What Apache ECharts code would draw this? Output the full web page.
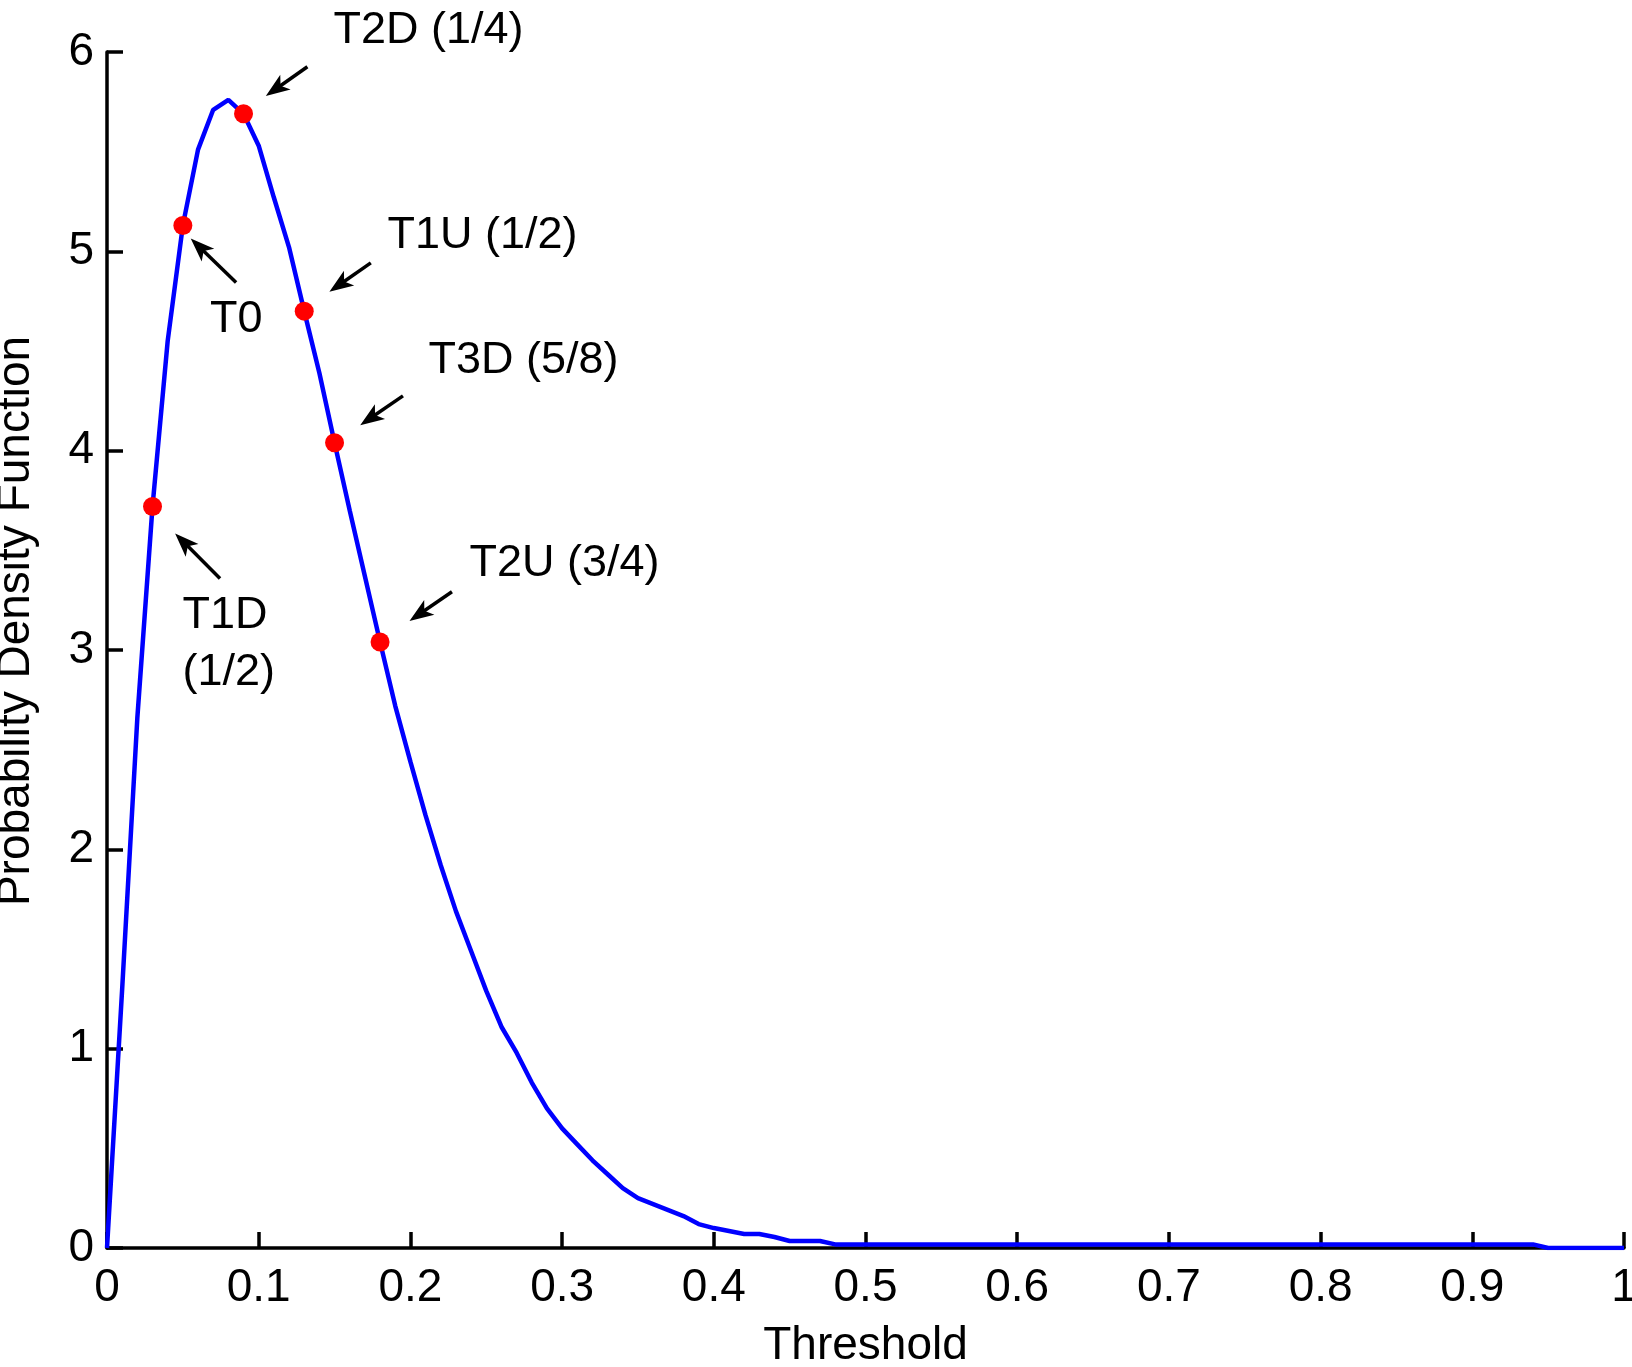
<!DOCTYPE html>
<html>
<head>
<meta charset="utf-8">
<title>Probability Density Function</title>
<script src="https://cdn.jsdelivr.net/npm/echarts@6/dist/echarts.min.js"></script>
<style>
  html, body { margin: 0; padding: 0; background: #fff; }
  #main { width: 1632px; height: 1367px; }
</style>
</head>
<body>
<div id="main"></div>
<script>
// threshold grid, 0 .. 1 in steps of 0.01
var thresholds = [];
for (var i = 0; i <= 100; i++) {
    thresholds.push(i / 100);
}

// pdf values, one per threshold
var pdfValues = [
    0, 1.3, 2.66, 3.72, 4.55, 5.13, 5.51, 5.71, 5.76, 5.69,
    5.53, 5.27, 5.02, 4.70, 4.39, 4.04, 3.70, 3.37, 3.04, 2.72,
    2.44, 2.17, 1.92, 1.69, 1.49, 1.29, 1.11, 0.98, 0.83, 0.70,
    0.60, 0.52, 0.44, 0.37, 0.30, 0.25, 0.22, 0.19, 0.16, 0.12,
    0.10, 0.085, 0.07, 0.07, 0.055, 0.035, 0.035, 0.035, 0.018, 0.018,
    0.018, 0.018, 0.018, 0.018, 0.018, 0.018, 0.018, 0.018, 0.018, 0.018,
    0.018, 0.018, 0.018, 0.018, 0.018, 0.018, 0.018, 0.018, 0.018, 0.018,
    0.018, 0.018, 0.018, 0.018, 0.018, 0.018, 0.018, 0.018, 0.018, 0.018,
    0.018, 0.018, 0.018, 0.018, 0.018, 0.018, 0.018, 0.018, 0.018, 0.018,
    0.018, 0.018, 0.018, 0.018, 0.018, 0, 0, 0, 0, 0,
    0
];

// marked thresholds (red dots)
var markerX = [0.03, 0.05, 0.09, 0.13, 0.15, 0.18];
var markerY = [3.72, 5.13, 5.69, 4.70, 4.04, 3.04];

// annotation texts and where they sit (left edge, vertical middle)
var labelText = ['T1D\n(1/2)', 'T0', 'T2D (1/4)', 'T1U (1/2)', 'T3D (5/8)', 'T2U (3/4)'];
var labelX = [0.0497, 0.0679, 0.1493, 0.1849, 0.2119, 0.2390];
var labelY = [3.032, 4.660, 6.105, 5.081, 4.454, 3.435];

// arrows: tail -> tip
var arrowTail = [[0.0745, 3.359], [0.0851, 4.844], [0.1321, 5.926], [0.1739, 4.942], [0.1951, 4.275], [0.2274, 3.292]];
var arrowTip  = [[0.0449, 3.585], [0.0552, 5.065], [0.1047, 5.779], [0.1466, 4.797], [0.1669, 4.128], [0.1994, 3.146]];

var xTicks = {min: 0, max: 1, interval: 0.1};
var yTicks = {min: 0, max: 6, interval: 1};

var curveData = thresholds.map(function (x, i) { return [x, pdfValues[i]]; });
var markerData = markerX.map(function (x, i) { return [x, markerY[i]]; });
var labelData = labelText.map(function (t, i) { return {name: t, value: [labelX[i], labelY[i]]}; });
var arrowData = arrowTail.map(function (t, i) { return [t[0], t[1], arrowTip[i][0], arrowTip[i][1]]; });

var fontFamily = '"Liberation Sans", Arial, Helvetica, sans-serif';

var axisCommon = {
    axisLine: {lineStyle: {color: '#000', width: 3.5}},
    axisTick: {inside: true, length: 16, lineStyle: {color: '#000', width: 3.5}},
    splitLine: {show: false},
    nameTextStyle: {color: '#000', fontSize: 46, fontFamily: fontFamily}
};

// arrow: shaft plus a notched head, drawn in pixel space from the two data points
function renderArrow(params, api) {
    var p0 = api.coord([api.value(0), api.value(1)]);
    var p1 = api.coord([api.value(2), api.value(3)]);
    var dx = p1[0] - p0[0], dy = p1[1] - p0[1];
    var len = Math.sqrt(dx * dx + dy * dy);
    var ux = dx / len, uy = dy / len;
    var headLen = 24, halfW = 9, notch = 18;
    var bx = p1[0] - ux * headLen, by = p1[1] - uy * headLen;
    var nx = p1[0] - ux * notch, ny = p1[1] - uy * notch;
    return {
        type: 'group',
        children: [
            {
                type: 'line',
                shape: {x1: p0[0], y1: p0[1], x2: p1[0] - ux * 14, y2: p1[1] - uy * 14},
                style: {stroke: '#000', lineWidth: 3.5}
            },
            {
                type: 'polygon',
                shape: {points: [
                    [p1[0], p1[1]],
                    [bx - uy * halfW, by + ux * halfW],
                    [nx, ny],
                    [bx + uy * halfW, by - ux * halfW]
                ]},
                style: {fill: '#000'}
            }
        ]
    };
}

var myChart = echarts.init(document.getElementById('main'));
var option = {
    animation: false,
    backgroundColor: '#fff',
    textStyle: {fontFamily: fontFamily, color: '#000'},
    grid: {
        left: 107,
        right: 8,
        top: 52,
        bottom: 119,
        containLabel: false,
        outerBoundsMode: 'none'
    },
    xAxis: echarts.util.merge({
        type: 'value',
        min: xTicks.min,
        max: xTicks.max,
        interval: xTicks.interval,
        name: 'Threshold',
        nameLocation: 'middle',
        nameGap: 75,
        axisLabel: {color: '#000', fontSize: 46, margin: 17, fontFamily: fontFamily}
    }, axisCommon, true),
    yAxis: echarts.util.merge({
        type: 'value',
        min: yTicks.min,
        max: yTicks.max,
        interval: yTicks.interval,
        name: 'Probability Density Function',
        nameLocation: 'middle',
        nameGap: 68,
        axisLabel: {color: '#000', fontSize: 46, margin: 13, fontFamily: fontFamily}
    }, echarts.util.merge({nameTextStyle: {padding: [0, 0, 0, 58]}}, axisCommon), true),
    series: [
        {
            name: 'pdf',
            type: 'line',
            data: curveData,
            showSymbol: false,
            lineStyle: {color: '#0000ff', width: 4.5},
            z: 3
        },
        {
            name: 'thresholds',
            type: 'scatter',
            data: markerData,
            symbolSize: 19,
            itemStyle: {color: '#ff0000', opacity: 1},
            z: 5
        },
        {
            name: 'arrows',
            type: 'custom',
            data: arrowData,
            renderItem: renderArrow,
            clip: false,
            silent: true,
            encode: {x: [0, 2], y: [1, 3]},
            z: 4
        },
        {
            name: 'labels',
            type: 'scatter',
            data: labelData,
            symbolSize: 0,
            clip: false,
            silent: true,
            itemStyle: {opacity: 1},
            label: {
                show: true,
                position: 'right',
                distance: 0,
                formatter: '{b}',
                color: '#000',
                fontSize: 45,
                lineHeight: 57,
                fontFamily: fontFamily
            },
            z: 6
        }
    ]
};
myChart.setOption(option);
</script>
</body>
</html>
